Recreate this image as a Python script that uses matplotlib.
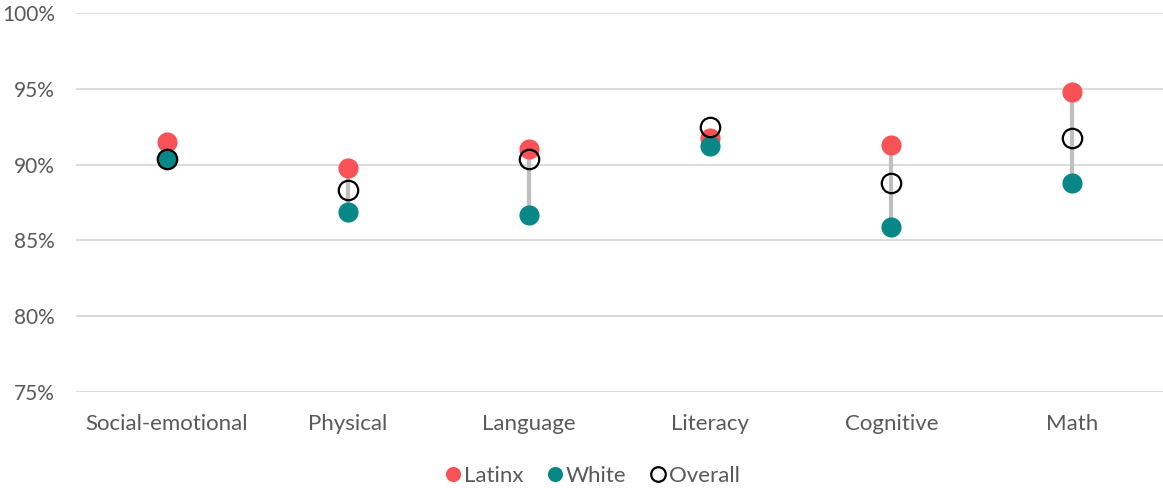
import matplotlib
matplotlib.use('Agg')
from matplotlib import pyplot as plt
from matplotlib.ticker import PercentFormatter

categories = ['Social-emotional', 'Physical', 'Language', 'Literacy', 'Cognitive', 'Math']
latinx = [91.5, 89.8, 91.0, 91.75, 91.3, 94.8]
white = [90.4, 86.9, 86.7, 91.2, 85.9, 88.8]
overall = [90.4, 88.3, 90.4, 92.5, 88.8, 91.75]

plt.rcParams['font.family'] = ['Lato', 'DejaVu Sans']
fig = plt.figure(figsize=(11.63, 4.88), dpi=100)
ax = fig.add_axes([76/1163, 1-392/488, 1-76/1163, 379/488])

x = list(range(len(categories)))
for i in x:
    ax.plot([i, i], [latinx[i], white[i]], color='#bfbfbf', lw=3, zorder=1)
ax.plot(x, latinx, 'o', ms=14.5, color='#f85156', mec='none', label='Latinx', zorder=2)
ax.plot(x, white, 'o', ms=14.5, color='#078786', mec='none', label='White', zorder=3)
ax.plot(x, overall, 'o', ms=14, mfc='none', mec='black', mew=1.6, label='Overall', zorder=4)

ax.set_xlim(-0.5, len(categories) - 0.5)
ax.set_ylim(75, 100)
ax.set_yticks([75, 80, 85, 90, 95, 100])
ax.yaxis.set_major_formatter(PercentFormatter(decimals=0))
ax.set_xticks(x)
ax.set_xticklabels(categories)
ax.grid(axis='y', color='#d9d9d9', lw=1.3)
ax.set_axisbelow(True)
for s in ax.spines.values():
    s.set_visible(False)
ax.tick_params(length=0, labelsize=16, colors='#595959')
ax.tick_params(axis='x', pad=16)
ax.tick_params(axis='y', labelsize=15, pad=15)

leg = fig.legend(loc='center', bbox_to_anchor=(592/1163, 1-476/488), ncol=3, frameon=False,
                 fontsize=16, handletextpad=0.1, handlelength=0.8, columnspacing=1.0,
                 markerscale=0.75)
for t in leg.get_texts():
    t.set_color('#595959')

fig.savefig('out.png', dpi=100)
